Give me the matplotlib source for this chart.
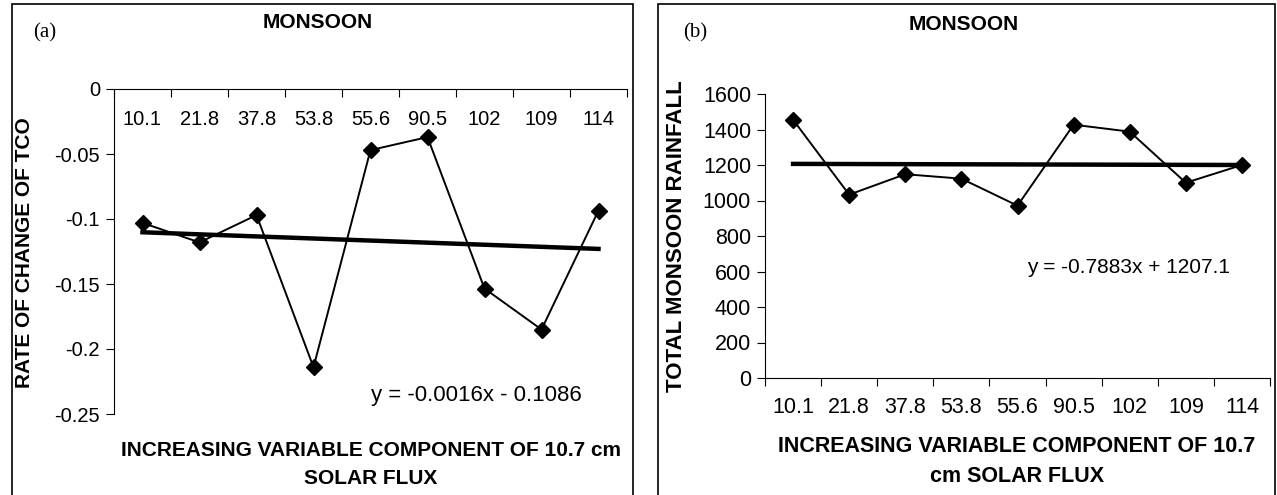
import numpy as np
import matplotlib
matplotlib.use('Agg')
import matplotlib.pyplot as plt
from matplotlib.patches import Rectangle
from matplotlib.transforms import blended_transform_factory

plt.rcParams['font.family'] = ['Liberation Sans', 'DejaVu Sans']

categories = ['10.1', '21.8', '37.8', '53.8', '55.6', '90.5', '102', '109', '114']
tco_rate = [-0.103, -0.118, -0.097, -0.214, -0.047, -0.037, -0.1535, -0.185, -0.0935]
rainfall = [1455, 1033, 1148, 1123, 971, 1427, 1388, 1100, 1200]
tco_fit = (-0.0016, -0.1086)
rain_fit = (-0.7883, 1207.1)

x = np.arange(1, len(categories) + 1)
bounds = np.arange(0.5, len(categories) + 1, 1.0)

W, H = 1277, 495
fig = plt.figure(figsize=(W / 100, H / 100), dpi=100)


def fbox(l, t, r, b):
    # pixel box -> figure fraction [left, bottom, width, height]
    return [l / W, 1 - b / H, (r - l) / W, (b - t) / H]


# panel frames
for l, r in [(12, 633), (658, 1275)]:
    fig.add_artist(Rectangle((l / W, -0.05), (r - l) / W, 1.05 - 4 / H,
                             transform=fig.transFigure, fill=False,
                             edgecolor='black', linewidth=1.2))

# ---------- (a) ----------
ax1 = fig.add_axes(fbox(114, 89, 627, 414))
ax1.plot(x, tco_rate, color='black', lw=1.4, marker='D', ms=8.5, zorder=3)
ax1.plot(x, tco_fit[0] * x + tco_fit[1], color='black', lw=3.2, zorder=2)
ax1.set_xlim(0.5, 9.5)
ax1.set_ylim(-0.25, 0)
ax1.set_yticks([0, -0.05, -0.1, -0.15, -0.2, -0.25])
ax1.set_yticklabels(['0', '-0.05', '-0.1', '-0.15', '-0.2', '-0.25'])
ax1.tick_params(axis='y', direction='out', length=6, labelsize=14.5, pad=4)
for s in ['bottom', 'right']:
    ax1.spines[s].set_visible(False)
ax1.xaxis.tick_top()
ax1.set_xticks(bounds)
ax1.set_xticklabels([])
ax1.tick_params(axis='x', direction='in', length=6)
tr1 = blended_transform_factory(ax1.transData, ax1.transAxes)
for xi, c in zip(x, categories):
    ax1.text(xi, 0.905, c, transform=tr1, ha='center', va='center', fontsize=14.5)
ax1.text(0.912, 0.058, 'y = -0.0016x - 0.1086', transform=ax1.transAxes,
         ha='right', va='center', fontsize=16)
fig.text(25 / W, 1 - 253 / H, 'RATE OF CHANGE OF TCO', rotation=90,
         ha='center', va='center', fontsize=15, fontweight='bold')
fig.text(318 / W, 1 - 23 / H, 'MONSOON', ha='center', va='center',
         fontsize=15, fontweight='bold')
fig.text(45 / W, 1 - 33 / H, '(a)', ha='center', va='center',
         fontsize=15, family='Liberation Serif')
fig.text(371 / W, 1 - 450 / H, 'INCREASING VARIABLE COMPONENT OF 10.7 cm',
         ha='center', va='center', fontsize=15, fontweight='bold')
fig.text(371 / W, 1 - 478 / H, 'SOLAR FLUX',
         ha='center', va='center', fontsize=15, fontweight='bold')

# ---------- (b) ----------
ax2 = fig.add_axes(fbox(765, 94, 1270, 378))
ax2.plot(x, rainfall, color='black', lw=1.4, marker='D', ms=8.5, zorder=3)
ax2.plot(x, rain_fit[0] * x + rain_fit[1], color='black', lw=3.2, zorder=2)
ax2.set_xlim(0.5, 9.5)
ax2.set_ylim(0, 1600)
ax2.set_yticks(np.arange(0, 1601, 200))
ax2.tick_params(axis='y', direction='out', length=6, labelsize=15.5, pad=4)
for s in ['top', 'right']:
    ax2.spines[s].set_visible(False)
ax2.set_xticks(bounds)
ax2.set_xticklabels([])
ax2.tick_params(axis='x', direction='out', length=6)
ax2.set_xticks(x, minor=True)
ax2.set_xticklabels(categories, minor=True)
ax2.tick_params(axis='x', which='minor', length=0, labelsize=15.5, pad=14)
ax2.text(0.921, 0.39, 'y = -0.7883x + 1207.1', transform=ax2.transAxes,
         ha='right', va='center', fontsize=15)
fig.text(677 / W, 1 - 236 / H, 'TOTAL MONSOON RAINFALL', rotation=90,
         ha='center', va='center', fontsize=16, fontweight='bold')
fig.text(964 / W, 1 - 25 / H, 'MONSOON', ha='center', va='center',
         fontsize=15, fontweight='bold')
fig.text(695 / W, 1 - 33 / H, '(b)', ha='center', va='center',
         fontsize=15, family='Liberation Serif')
fig.text(1017 / W, 1 - 447 / H, 'INCREASING VARIABLE COMPONENT OF 10.7',
         ha='center', va='center', fontsize=15.5, fontweight='bold')
fig.text(1017 / W, 1 - 477 / H, 'cm SOLAR FLUX',
         ha='center', va='center', fontsize=15.5, fontweight='bold')

fig.savefig('out.png', dpi=100)
